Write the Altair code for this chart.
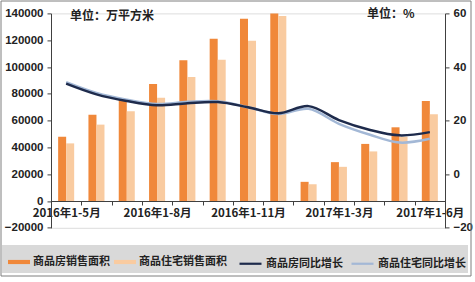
import altair as alt
import pandas as pd

categories = ["2016年1-5月", "2016年1-6月", "2016年1-7月", "2016年1-8月", "2016年1-9月",
              "2016年1-10月", "2016年1-11月", "2016年1-12月", "2017年1-2月", "2017年1-3月",
              "2017年1-4月", "2017年1-5月", "2017年1-6月"]
shown_labels = ["2016年1-5月", "2016年1-8月", "2016年1-11月", "2017年1-3月", "2017年1-6月"]

bar_names = ["商品房销售面积", "商品住宅销售面积"]
bar_colors = ["#F0883A", "#F9CBA0"]
line_names = ["商品房同比增长", "商品住宅同比增长"]
line_colors = ["#1E2B4C", "#A3B8D6"]

area_all = [48000, 64300, 75800, 87400, 105000, 121000, 136000, 140000, 14300, 29000, 42600, 55000, 74600]
area_res = [43000, 57000, 67000, 77000, 92500, 105500, 119500, 138000, 12500, 25500, 37000, 48000, 64700]
growth_all = [33.8, 29.8, 27.3, 25.7, 26.5, 26.9, 25.0, 22.7, 25.4, 20.2, 16.6, 14.5, 15.7]
growth_res = [34.3, 30.3, 27.8, 26.2, 27.0, 27.2, 25.0, 22.5, 24.4, 18.8, 14.8, 11.8, 13.2]

left_ticks = [-20000, 0, 20000, 40000, 60000, 80000, 100000, 120000, 140000]
right_ticks = [-20, -10, 0, 10, 20, 30, 40, 50, 60]

FONT = "Noto Sans CJK SC"
W, H = 394, 214.4

bars = pd.DataFrame({
    "cat": categories * 2,
    "series": [bar_names[0]] * 13 + [bar_names[1]] * 13,
    "value": area_all + area_res,
})
line_res = pd.DataFrame({"cat": categories, "series": line_names[1], "value": growth_res})
line_all = pd.DataFrame({"cat": categories, "series": line_names[0], "value": growth_all})

label_list = "[" + ",".join("'" + s + "'" for s in shown_labels) + "]"

xenc = alt.X("cat:N", sort=categories,
             scale=alt.Scale(paddingInner=0, paddingOuter=0),
             axis=alt.Axis(title=None, orient="bottom", offset=-26.8, labelAngle=0,
                           labelExpr=f"indexof({label_list}, datum.label) >= 0 ? datum.label : ''",
                           labelOverlap=False, labelFont=FONT, labelFontSize=11.5,
                           labelFontWeight="bold", labelColor="#222222", labelPadding=2,
                           tickBand="extent", tickSize=4, tickColor="#404040",
                           domainColor="#404040", grid=False))

common_legend = dict(orient="none", legendY=231.6, direction="horizontal", title=None,
                     padding=6, columnPadding=4, labelOffset=3,
                     symbolSize=484, labelFont=FONT, labelFontSize=11, labelFontWeight="bold",
                     labelColor="#222222")

# grey legend band (decoration behind both legends)
legend_bg = alt.Chart(pd.DataFrame({"a": [0]})).mark_rect(fill="#D9D9D9", stroke=None).encode(
    x=alt.value(-49), x2=alt.value(417), y=alt.value(231.6), y2=alt.value(259.6))

bar_layer = alt.Chart(bars).mark_bar().encode(
    x=xenc,
    xOffset=alt.XOffset("series:N", sort=bar_names,
                        scale=alt.Scale(paddingInner=0, paddingOuter=0.89)),
    y=alt.Y("value:Q", scale=alt.Scale(domain=[-20000, 140000], nice=False),
            axis=alt.Axis(title=None, orient="left", values=left_ticks, format="d", grid=False,
                          labelFont="Liberation Sans", labelFontSize=11.5, labelFontWeight="bold",
                          labelColor="#222222", tickSize=4, tickColor="#404040",
                          domainColor="#404040", labelPadding=4)),
    fill=alt.Fill("series:N", scale=alt.Scale(domain=bar_names, range=bar_colors),
                  legend=alt.Legend(legendX=-49, symbolType="M-1,-0.19H1V0.19H-1Z",
                                    symbolStrokeWidth=0, symbolOpacity=1, **common_legend)),
)

yr = alt.Y("value:Q", scale=alt.Scale(domain=[-20, 60], nice=False),
           axis=alt.Axis(title=None, orient="right", values=right_ticks, format="d", grid=False,
                         labelFont="Liberation Sans", labelFontSize=11.5, labelFontWeight="bold",
                         labelColor="#222222", tickSize=4, tickColor="#404040",
                         domainColor="#404040", labelPadding=4))

stroke_scale = alt.Scale(domain=line_names, range=line_colors)
line_legend = alt.Legend(legendX=181, symbolType="stroke", symbolStrokeWidth=2.2, **common_legend)

l_res = alt.Chart(line_res).mark_line(strokeWidth=2.5, interpolate="catmull-rom").encode(
    x=alt.X("cat:N", sort=categories), y=yr,
    stroke=alt.Stroke("series:N", scale=stroke_scale, legend=line_legend))
l_all = alt.Chart(line_all).mark_line(strokeWidth=2.5, interpolate="catmull-rom").encode(
    x=alt.X("cat:N", sort=categories), y=alt.Y("value:Q"),
    stroke=alt.Stroke("series:N", scale=stroke_scale, legend=line_legend))
lines = alt.layer(l_res, l_all)

notes = pd.DataFrame({"t": ["单位：万平方米", "单位：%"], "px": [19, 316], "py": [3, 1]})
note_layer = alt.Chart(notes).mark_text(font=FONT, fontSize=12, fontWeight="bold",
                                        align="left", baseline="middle", color="#222222").encode(
    x=alt.X("px:Q", scale=None), y=alt.Y("py:Q", scale=None), text="t:N")

frame = alt.Chart(pd.DataFrame({"a": [0]})).mark_rect(fill=None, stroke="#7F7F7F", strokeWidth=1).encode(
    x=alt.value(-50), x2=alt.value(420), y=alt.value(-12.4), y2=alt.value(262.6))

chart = alt.layer(legend_bg, bar_layer, lines, note_layer, frame).resolve_scale(y="independent").properties(
    width=W, height=H,
    autosize=alt.AutoSizeParams(type="none"),
    padding={"left": 51, "top": 13.4, "right": 30, "bottom": 54.2},
).configure_view(stroke=None).configure(background="white")

chart.save("out.html", embed_options={"renderer": "svg", "actions": False})
